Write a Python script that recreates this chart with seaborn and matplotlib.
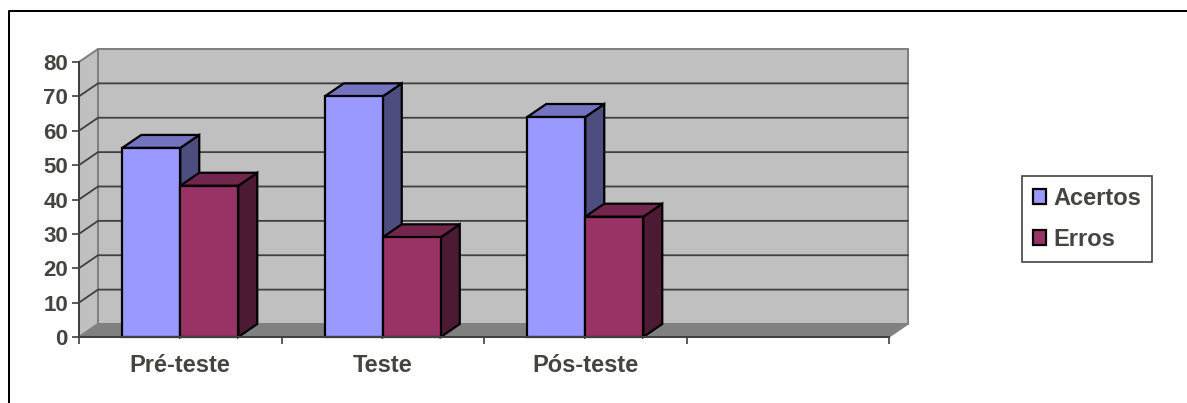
import pandas as pd
import numpy as np
import matplotlib.pyplot as plt
import seaborn as sns
from matplotlib.lines import Line2D
from matplotlib.patches import Patch, Polygon

# Values
categories = ["Pré-teste", "Teste", "Pós-teste", ""]
test_names = ["Pré-teste", "Teste", "Pós-teste"]
acertos = [55, 70, 64]
erros = [44, 29, 35]
y_ticks = [0, 10, 20, 30, 40, 50, 60, 70, 80]

# Colours for front, top and side of each series
front = {"Acertos": "#9999FF", "Erros": "#993366"}
top = {"Acertos": "#7373BF", "Erros": "#73264D"}
side = {"Acertos": "#4D4D80", "Erros": "#4D1A33"}
text_col = "#454540"
edge_w = 1.6

# depth of the fake 3D box, in pixels
dx, dy = 19, 13

sns.set_theme(style="ticks")
plt.rcParams["font.family"] = ["Liberation Sans", "DejaVu Sans"]

data_set = pd.DataFrame({
    "Teste": test_names * 2,
    "Serie": ["Acertos"] * 3 + ["Erros"] * 3,
    "Valor": acertos + erros,
})

fig = plt.figure(figsize=(11.87, 4.03), dpi=100)
ax = fig.add_axes([79 / 1187, 66 / 403, 810 / 1187, 275 / 403])
sns.barplot(data=data_set, x="Teste", y="Valor", hue="Serie", order=categories,
            hue_order=["Acertos", "Erros"], palette=front, saturation=1,
            width=0.573, gap=0, edgecolor="black", linewidth=edge_w, legend=False, ax=ax)
ax.set_xlim(-0.5, 3.5)
ax.set_ylim(0, 80)
ax.set_xlabel("")
ax.set_ylabel("")
ax.patch.set_visible(False)


def to_px(x, y, back=False):
    px = ax.transData.transform((x, y))
    return px + (dx, dy) if back else px


def face(points, color, edge, lw, z):
    ax.add_patch(Polygon(points, closed=True, facecolor=color, edgecolor=edge, linewidth=lw,
                         transform=None, zorder=z, clip_on=False, joinstyle="miter"))


x0, x1 = ax.get_xlim()

# Walls and floor
face([to_px(x0, 0, True), to_px(x1, 0, True), to_px(x1, 80, True), to_px(x0, 80, True)],
     "#C0C0C0", "#808080", 1.45, 0.2)
face([to_px(x0, 0), to_px(x0, 0, True), to_px(x0, 80, True), to_px(x0, 80)],
     "#C0C0C0", "#808080", 1.45, 0.3)
face([to_px(x0, 0), to_px(x1, 0), to_px(x1, 0, True), to_px(x0, 0, True)],
     "#808080", "#808080", 1, 0.4)

# Gridlines on the back and left walls
for val in y_ticks[1:-1]:
    pts = np.array([to_px(x0, val), to_px(x0, val, True), to_px(x1, val, True)])
    ax.add_line(Line2D(pts[:, 0], pts[:, 1], color="#404040", lw=1.3, transform=None,
                       zorder=0.5, clip_on=False))

# Depth faces of every bar, series by series so the front ones cover the others
z = 2
for name, container in zip(["Acertos", "Erros"], ax.containers):
    for bar in container:
        h = bar.get_height()
        if np.isnan(h) or h == 0:
            continue
        left, right = bar.get_x(), bar.get_x() + bar.get_width()
        face([to_px(right, 0), to_px(right, 0, True), to_px(right, h, True), to_px(right, h)],
             side[name], "black", edge_w, z)
        face([to_px(left, h), to_px(right, h), to_px(right, h, True), to_px(left, h, True)],
             top[name], "black", edge_w, z)
        bar.set_zorder(z + 1)
        bar.set_clip_on(False)
    z += 2

# Axes
for s in ["top", "right"]:
    ax.spines[s].set_visible(False)
for s in ["left", "bottom"]:
    ax.spines[s].set_color("#404040")
    ax.spines[s].set_linewidth(1.45)
    ax.spines[s].set_zorder(9)
ax.set_yticks(y_ticks)
ax.set_xticks(np.arange(4))
ax.set_xticklabels(categories)
ax.set_xticks(np.arange(-0.5, 4), minor=True)
ax.tick_params(axis="x", which="major", length=0, pad=12, labelsize=17, labelcolor=text_col)
ax.tick_params(axis="x", which="minor", length=5, width=1.2, color="#404040")
ax.tick_params(axis="y", length=5, width=1.2, color="#404040", pad=3, labelsize=16,
               labelcolor=text_col)
for lab in ax.get_xticklabels() + ax.get_yticklabels():
    lab.set_fontweight("bold")

# Legend
handles = [Patch(facecolor=front[n], edgecolor="black", linewidth=edge_w, label=n) for n in front]
leg = ax.legend(handles=handles, loc="upper left", bbox_to_anchor=(1022 / 1187, 227 / 403),
                bbox_transform=fig.transFigure, frameon=True, fancybox=False, framealpha=1,
                edgecolor=text_col, handlelength=0.55, handleheight=0.55, handletextpad=0.3,
                labelspacing=0.76, borderpad=0.46, borderaxespad=0, prop={"size": 17, "weight": "bold"})
leg.get_frame().set_linewidth(1.2)
for t in leg.get_texts():
    t.set_color(text_col)

# Outer chart frame, left and top only
fig.add_artist(Line2D([8.5 / 1187, 8.5 / 1187, 1], [0, 392 / 403, 392 / 403], color="black", lw=1.45,
                      transform=fig.transFigure))

fig.savefig("out.png", dpi=100, facecolor="white")
